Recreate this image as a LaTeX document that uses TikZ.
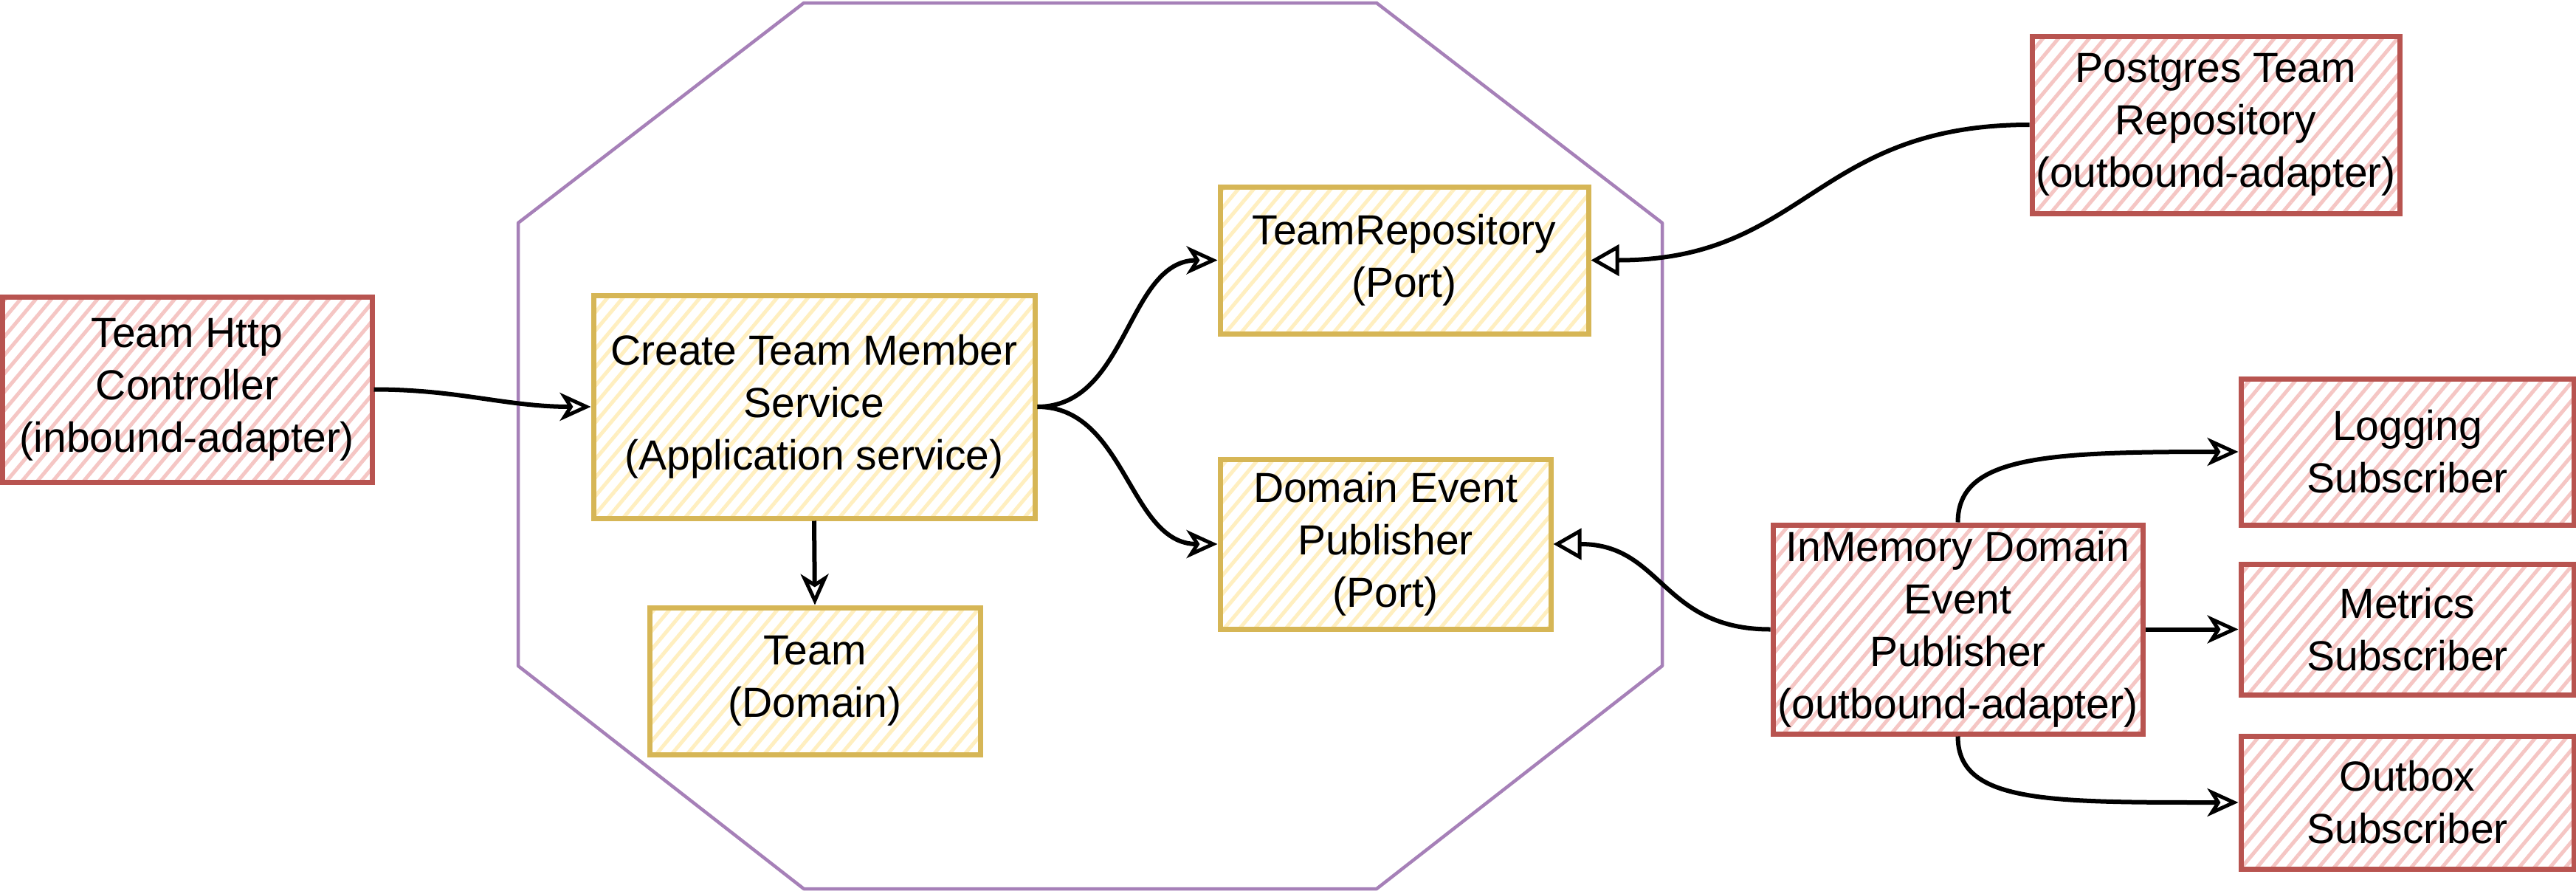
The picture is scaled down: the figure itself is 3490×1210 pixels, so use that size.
\documentclass[tikz,border=0pt]{standalone}
\usepackage{fontspec}
\setmainfont{Liberation Sans}
\usetikzlibrary{arrows.meta,patterns.meta}
\definecolor{redS}{HTML}{B85450}
\definecolor{redF}{HTML}{F5C6C4}
\definecolor{yelS}{HTML}{D6B656}
\definecolor{yelF}{HTML}{FFEFC0}
\definecolor{purS}{HTML}{A680B8}
\begin{document}
\begin{tikzpicture}[x=1pt,y=-1pt,
  box/.style={rectangle, line width=7pt, inner sep=0pt, align=center,
    font=\fontsize{57}{71}\selectfont},
  redbox/.style={box, draw=redS,
    pattern={Lines[angle=50,distance=16pt,line width=5pt]}, pattern color=redF},
  yelbox/.style={box, draw=yelS,
    pattern={Lines[angle=50,distance=16pt,line width=5pt]}, pattern color=yelF},
  conn/.style={line width=6pt, draw=black},
  arr/.style={conn, -{Stealth[open,length=42pt,width=38pt,inset=12pt,line width=5pt]}},
  impl/.style={conn, -{Triangle[length=38pt,width=42pt,line width=5pt,fill=white]}},
  hexa/.style={draw=purS, line width=4.5pt, line join=round},
]
\fill[white] (0,0) rectangle (3490,1210);
\useasboundingbox (0,0) rectangle (3490,1210);

% hexagonal application boundary
\draw[hexa] (1089,4) -- (1865,4) -- (2252,302) -- (2252,902) -- (1865,1204)
  -- (1089,1204) -- (702,902) -- (702,302) -- cycle;

% nodes
\node[redbox, minimum width=501pt, minimum height=251pt] (http) at (253.5,527.5)
  {Team Http\\Controller\\(inbound-adapter)};
\node[yelbox, minimum width=598pt, minimum height=302pt] (create) at (1103,551)
  {Create Team Member\\Service\\(Application service)};
\node[yelbox, minimum width=499pt, minimum height=199pt] (teamrepo) at (1902.5,352.5)
  {TeamRepository\\(Port)};
\node[yelbox, minimum width=448pt, minimum height=230pt] (dep) at (1877,737)
  {Domain Event\\Publisher\\(Port)};
\node[yelbox, minimum width=448pt, minimum height=199pt] (team) at (1104,922.5)
  {Team\\(Domain)};
\node[redbox, minimum width=498pt, minimum height=240pt] (postgres) at (3002,169)
  {Postgres Team\\Repository\\(outbound-adapter)};
\node[redbox, minimum width=501pt, minimum height=283pt] (inmem) at (2652.5,852.5)
  {InMemory Domain\\Event\\Publisher\\(outbound-adapter)};
\node[redbox, minimum width=451pt, minimum height=198pt] (logging) at (3261.5,612)
  {Logging\\Subscriber};
\node[redbox, minimum width=451pt, minimum height=177pt] (metrics) at (3261.5,852.5)
  {Metrics\\Subscriber};
\node[redbox, minimum width=451pt, minimum height=180pt] (outbox) at (3261.5,1087)
  {Outbox\\Subscriber};

% connectors
\draw[arr] (http.east) to[out=0,in=180] (create.west);
\draw[arr] (create.east) to[out=0,in=180] (teamrepo.west);
\draw[arr] (create.east) to[out=0,in=180] (dep.west);
\draw[arr] (create.south) -- (team.north);
\draw[impl] (postgres.west) to[out=180,in=0,looseness=1.2] (teamrepo.east);
\draw[impl] (inmem.west) to[out=180,in=0,looseness=1.2] (dep.east);
\draw[arr] (inmem.north) .. controls +(0,-90) and +(-260,0) .. (logging.west);
\draw[arr] (inmem.east) -- (metrics.west);
\draw[arr] (inmem.south) .. controls +(0,90) and +(-260,0) .. (outbox.west);
\end{tikzpicture}
\end{document}
